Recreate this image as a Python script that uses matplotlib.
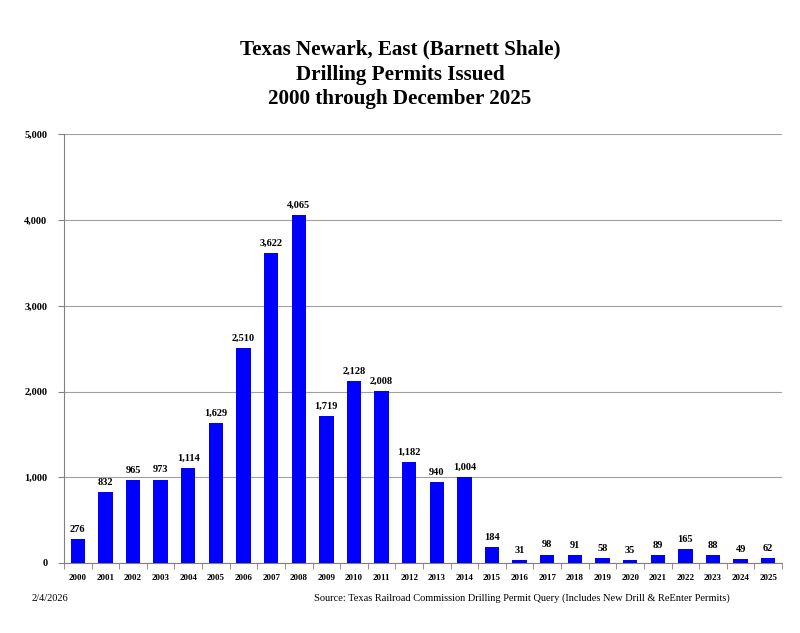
import matplotlib.pyplot as plt
import numpy as np

years = [str(y) for y in range(2000, 2026)]
permits = [276, 832, 965, 973, 1114, 1629, 2510, 3622, 4065, 1719, 2128, 2008,
           1182, 940, 1004, 184, 31, 98, 91, 58, 35, 89, 165, 88, 49, 62]

plt.rcParams['font.family'] = ['Liberation Serif', 'DejaVu Serif']

fig = plt.figure(figsize=(8, 6.33), dpi=100)
ax = fig.add_axes([0.08, 0.1106, 0.8975, 0.677])

x = np.arange(len(years))
ax.bar(x, permits, width=0.52, color='#0000FF', zorder=3)

for xi, v in zip(x, permits):
    ax.text(xi, v + 60, f'{v:,}', ha='center', va='bottom', fontsize=7.5, fontweight='bold')

ax.set_xlim(-0.5, len(years) - 0.5)
ax.set_ylim(0, 5000)
ax.set_yticks(range(0, 5001, 1000))
ax.set_yticklabels([f'{t:,}' for t in range(0, 5001, 1000)], fontsize=7.5, fontweight='bold')
ax.set_xticks(x)
ax.set_xticklabels(years, fontsize=6.5, fontweight='bold')
ax.set_xticks(np.arange(-0.5, len(years)), minor=True)
ax.tick_params(axis='x', which='major', length=0, pad=8)
ax.tick_params(axis='x', which='minor', length=4, color='#808080')
ax.tick_params(axis='y', length=4, color='#808080', pad=8)

ax.grid(axis='y', color='#a0a0a0', linewidth=0.8, zorder=0)
for s in ['top', 'right']:
    ax.spines[s].set_visible(False)
ax.spines['left'].set_color('#808080')
ax.spines['bottom'].set_color('#808080')

fig.text(0.5, 0.937, 'Texas Newark, East (Barnett Shale)\nDrilling Permits Issued\n2000 through December 2025',
         ha='center', va='top', fontsize=15.2, fontweight='bold', linespacing=1.32)

fig.text(0.04, 0.055, '2/4/2026', fontsize=7.5, va='center')
fig.text(0.392, 0.055, 'Source: Texas Railroad Commission Drilling Permit Query (Includes New Drill & ReEnter Permits)',
         fontsize=7.5, va='center')

fig.savefig('out.png', dpi=100)
